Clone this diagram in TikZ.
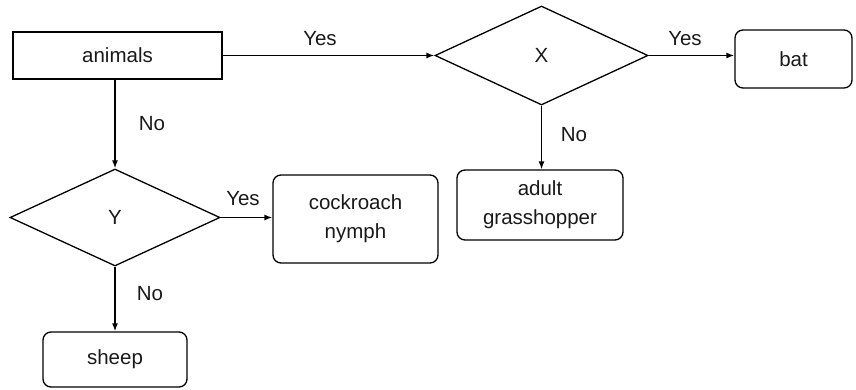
\documentclass[tikz,border=0pt]{standalone}
\usepackage{fontspec}
\setmainfont{Liberation Sans}
\usetikzlibrary{shapes.geometric,arrows.meta}
\begin{document}
\begin{tikzpicture}[x=1pt,y=-1pt,
  every node/.style={font=\fontsize{20.5}{29}\selectfont, text=black!90},
  box/.style={draw, line width=1.3pt, inner sep=0pt},
  rbox/.style={box, rounded corners=8pt},
  dec/.style={draw, line width=1.3pt, diamond, inner sep=0pt},
  conn/.style={draw, line width=1.3pt, -{Latex[length=8pt,width=6pt]}},
  lbl/.style={inner sep=0pt}]
\useasboundingbox (0,0) rectangle (856,389);
\node[box, minimum width=209pt, minimum height=47pt] (animals) at (117.5,55.5) {animals};
\node[dec, minimum width=213pt, minimum height=99pt] (X) at (541.5,55.5) {X};
\node[rbox, minimum width=117pt, minimum height=58pt] (bat) at (793.5,59) {bat};
\node[rbox, minimum width=166pt, minimum height=70pt, align=center] (adult) at (540,205) {adult\\grasshopper};
\node[dec, minimum width=210pt, minimum height=97pt] (Y) at (115,217.5) {Y};
\node[rbox, minimum width=165pt, minimum height=88pt, align=center] (cock) at (355.5,219) {cockroach\\nymph};
\node[rbox, minimum width=144pt, minimum height=55pt] (sheep) at (115,359.5) {sheep};
\draw[conn] (animals.east) -- (X.west);
\draw[conn] (X.east) -- (bat.west |- X.east);
\draw[conn] (X.south) -- (adult.north -| X.south);
\draw[conn] (animals.south -| Y.north) -- (Y.north);
\draw[conn] (Y.east) -- (cock.west |- Y.east);
\draw[conn] (Y.south) -- (sheep.north -| Y.south);
\node[lbl] (l1) at (320,39) {Yes};
\node[lbl] (l2) at (685,39) {Yes};
\node[lbl] (l3) at (152,124) {No};
\node[lbl] (l4) at (574,135) {No};
\node[lbl] (l5) at (243,199) {Yes};
\node[lbl] (l6) at (150,294) {No};
\end{tikzpicture}
\end{document}
